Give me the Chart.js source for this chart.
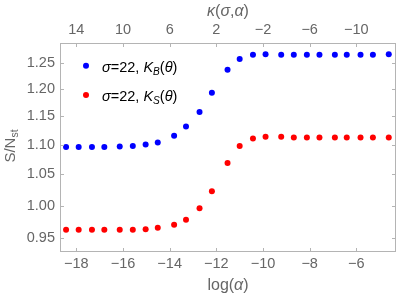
<!DOCTYPE html>
<html>
<head>
<meta charset="utf-8">
<script src="https://cdn.jsdelivr.net/npm/chart.js@4.4.0/dist/chart.umd.min.js"></script>
<style>
  html, body { margin: 0; padding: 0; background: #fff; }
</style>
</head>
<body>
<canvas id="c" width="419" height="297"></canvas>
<script>
// data
const logAlpha = [-18.44, -17.90, -17.33, -16.80, -16.14, -15.58, -15.03, -14.51, -13.81, -13.30,
                  -12.72, -12.19, -11.52, -11.00, -10.43, -9.89, -9.22, -8.68, -8.12, -7.58,
                  -6.92, -6.41, -5.82, -5.29, -4.61];
const ratioKB = [1.096, 1.096, 1.096, 1.096, 1.097, 1.098, 1.1005, 1.104, 1.1155, 1.132,
                 1.158, 1.1935, 1.237, 1.258, 1.2664, 1.2675, 1.2664, 1.2664, 1.2664, 1.2664,
                 1.2664, 1.2664, 1.2664, 1.2664, 1.2675];
const ratioKS = [0.963, 0.963, 0.963, 0.963, 0.963, 0.963, 0.9637, 0.966, 0.9705, 0.978,
                 0.996, 1.0226, 1.069, 1.098, 1.111, 1.114, 1.114, 1.1126, 1.1126, 1.1126,
                 1.1126, 1.1126, 1.1126, 1.1126, 1.1126];
const xTicks = [-18, -16, -14, -12, -10, -8, -6];
const kappaTicks = [14, 10, 6, 2, -2, -6, -10];
const yTicks = [0.95, 1.00, 1.05, 1.10, 1.15, 1.20, 1.25];

const labelColor = '#666';
const frameColor = '#b4b4b4';
const tickFont = { family: 'Liberation Sans', size: 14.5 };
const minus = s => String(s).replace('-', '\u2212');

// draws a line of text made of plain / italic / subscript pieces
function richText(ctx, parts, x, y, size) {
  let cx = x;
  for (const p of parts) {
    const fs = p.sub ? size * 0.7 : size;
    ctx.font = (p.it ? 'italic ' : '') + fs + 'px "Liberation Sans"';
    ctx.fillText(p.t, cx, p.sub ? y + size * 0.28 : y);
    cx += ctx.measureText(p.t).width;
  }
  return cx - x;
}
function richWidth(ctx, parts, size) {
  let w = 0;
  for (const p of parts) {
    ctx.font = (p.it ? 'italic ' : '') + (p.sub ? size * 0.7 : size) + 'px "Liberation Sans"';
    w += ctx.measureText(p.t).width;
  }
  return w;
}

const framePlugin = {
  id: 'frame',
  afterDraw(chart) {
    const { ctx, chartArea: a, scales } = chart;
    ctx.save();
    ctx.strokeStyle = frameColor;
    ctx.lineWidth = 1;
    ctx.strokeRect(a.left + 0.5, a.top + 0.5, a.right - a.left - 1, a.bottom - a.top - 1);
    ctx.beginPath();
    xTicks.forEach(v => {
      const px = Math.round(scales.x.getPixelForValue(v)) + 0.5;
      ctx.moveTo(px, a.bottom); ctx.lineTo(px, a.bottom - 4);
      ctx.moveTo(px, a.top); ctx.lineTo(px, a.top + 4);
    });
    yTicks.forEach(v => {
      const py = Math.round(scales.y.getPixelForValue(v)) + 0.5;
      ctx.moveTo(a.left, py); ctx.lineTo(a.left + 4, py);
      ctx.moveTo(a.right, py); ctx.lineTo(a.right - 4, py);
    });
    ctx.stroke();

    // axis titles
    ctx.fillStyle = labelColor;
    ctx.textBaseline = 'middle';
    const cx = (a.left + a.right) / 2;
    const bottomTitle = [{ t: 'log(' }, { t: 'α', it: true }, { t: ')' }];
    richText(ctx, bottomTitle, cx - richWidth(ctx, bottomTitle, 16) / 2, 286, 16);
    const topTitle = [{ t: 'κ', it: true }, { t: '(' }, { t: 'σ', it: true }, { t: ',' }, { t: 'α', it: true }, { t: ')' }];
    richText(ctx, topTitle, cx - richWidth(ctx, topTitle, 16) / 2, 12, 16);
    const yTitle = [{ t: 'S/' }, { t: 'N' }, { t: 'st', sub: true }];
    ctx.save();
    ctx.translate(11, 146);
    ctx.rotate(-Math.PI / 2);
    richText(ctx, yTitle, -richWidth(ctx, yTitle, 15) / 2, 0, 15);
    ctx.restore();

    // legend
    const entries = [
      { color: '#0000ff', dotY: 65.7, y: 68, sub: 'B' },
      { color: '#ff0000', dotY: 95, y: 97, sub: 'S' }
    ];
    entries.forEach(e => {
      ctx.fillStyle = e.color;
      ctx.beginPath();
      ctx.arc(86, e.dotY, 3, 0, Math.PI * 2);
      ctx.fill();
      ctx.fillStyle = '#000';
      richText(ctx, [{ t: 'σ', it: true }, { t: '=22, ' }, { t: 'K', it: true }, { t: e.sub, it: true, sub: true },
                     { t: '(' }, { t: 'θ', it: true }, { t: ')' }], 102, e.y, 14.5);
    });
    ctx.restore();
  }
};

const toPoints = ys => logAlpha.map((x, i) => ({ x: x, y: ys[i] }));

new Chart(document.getElementById('c'), {
  type: 'scatter',
  data: {
    datasets: [
      { label: 'σ=22, K_B(θ)', data: toPoints(ratioKB), backgroundColor: '#0000ff', borderColor: '#0000ff',
        pointRadius: 3, pointBorderWidth: 0 },
      { label: 'σ=22, K_S(θ)', data: toPoints(ratioKS), backgroundColor: '#ff0000', borderColor: '#ff0000',
        pointRadius: 3, pointBorderWidth: 0 }
    ]
  },
  options: {
    responsive: false,
    animation: false,
    devicePixelRatio: 1,
    layout: { padding: { right: 23, left: 0, top: 0, bottom: 0 } },
    plugins: { legend: { display: false }, tooltip: { enabled: false } },
    scales: {
      x: {
        type: 'linear', position: 'bottom', min: -18.7, max: -4.3,
        afterBuildTicks: s => { s.ticks = xTicks.map(v => ({ value: v })); },
        afterFit: s => { s.height = 45; },
        grid: { display: false, drawTicks: false },
        border: { display: false },
        ticks: { color: labelColor, font: tickFont, padding: 3, maxRotation: 0, callback: v => minus(v) }
      },
      x2: {
        type: 'linear', position: 'top', min: -18.7, max: -4.3,
        afterBuildTicks: s => { s.ticks = xTicks.map(v => ({ value: v })); },
        afterFit: s => { s.height = 43; },
        grid: { display: false, drawTicks: false },
        border: { display: false },
        ticks: { color: labelColor, font: tickFont, padding: 4, maxRotation: 0,
                 callback: (v, i) => minus(kappaTicks[i]) }
      },
      y: {
        type: 'logarithmic', min: 0.934, max: 1.29,
        afterBuildTicks: s => { s.ticks = yTicks.map(v => ({ value: v })); },
        afterFit: s => { s.width = 60; },
        grid: { display: false, drawTicks: false },
        border: { display: false },
        ticks: { color: labelColor, font: tickFont, padding: 5, callback: v => Number(v).toFixed(2) }
      }
    }
  },
  plugins: [framePlugin]
});
</script>
</body>
</html>
